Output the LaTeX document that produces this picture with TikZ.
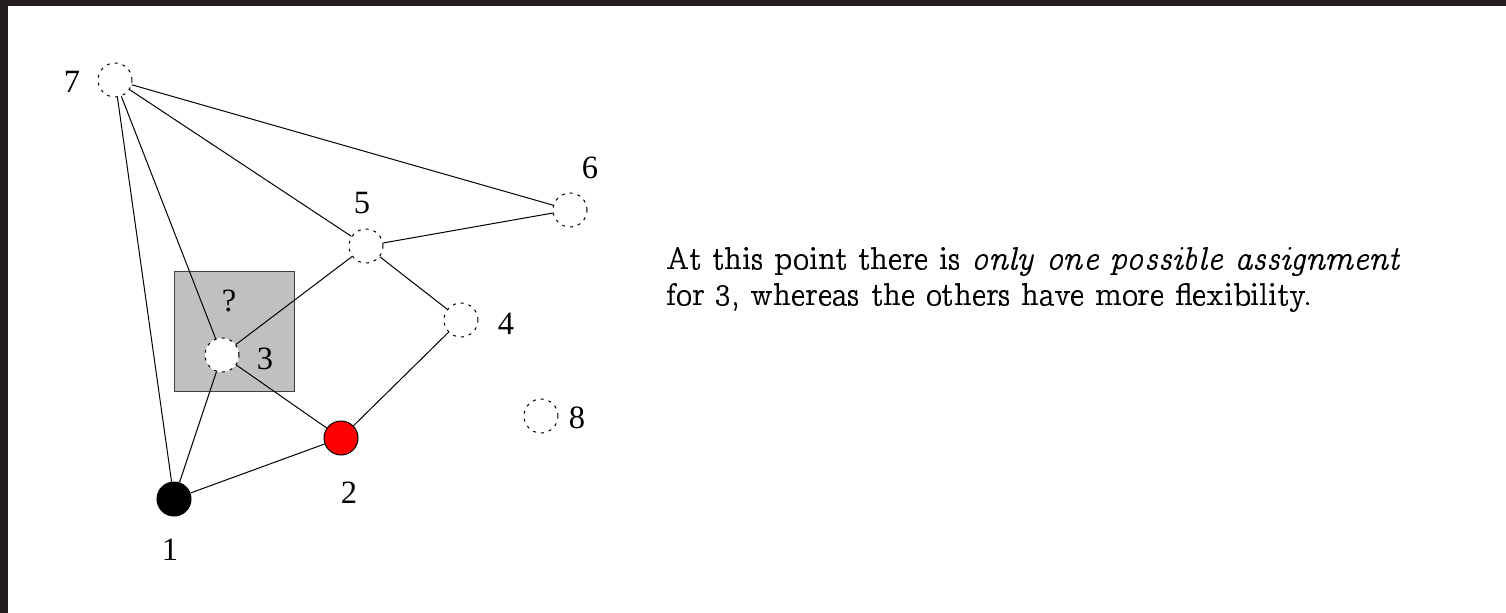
\documentclass[tikz,border=0pt]{standalone}
\usepackage[OT1]{fontenc}
\usepackage{fontspec}
\setmainfont{Liberation Serif}
\definecolor{frame}{HTML}{231F20}
\definecolor{boxgray}{HTML}{C0C0C0}
\definecolor{boxedge}{HTML}{404040}
\tikzset{
  vtx/.style={circle, minimum size=13.6pt, inner sep=0pt, line width=0.4pt},
  open/.style={vtx, draw, dash pattern=on 1.2pt off 2pt, fill=white},
  lbl/.style={anchor=base, inner sep=0pt, font=\fontsize{13}{15}\selectfont},
  edge/.style={line width=0.4pt},
}
\begin{document}
\begin{tikzpicture}[x=0.4pt,y=-0.4pt]
\useasboundingbox (0,0) rectangle (1506,613);
\fill[white] (0,0) rectangle (1506,613);
\fill[frame] (0,0) rectangle (1506,6);
\fill[frame] (0,0) rectangle (8,613);
% gray box
\node[draw=boxedge, fill=boxgray, line width=0.4pt, minimum size=48pt, inner sep=0pt] (box) at (234,331) {};
% vertices
\node[open] (v7) at (115,80) {};
\node[open] (v6) at (570,210) {};
\node[open] (v5) at (366,246) {};
\node[open] (v4) at (461,320) {};
\node[open] (v8) at (541,416) {};
\node[open] (v3) at (222,355) {};
\node[vtx, draw=black, fill=red] (v2) at (341,438) {};
\node[vtx, draw=black, fill=black] (v1) at (174,499) {};
% edges
\draw[edge] (v7) -- (v6);
\draw[edge] (v7) -- (v5);
\draw[edge] (v7) -- (v3);
\draw[edge] (v7) -- (v1);
\draw[edge] (v5) -- (v6);
\draw[edge] (v5) -- (v3);
\draw[edge] (v5) -- (v4);
\draw[edge] (v4) -- (v2);
\draw[edge] (v3) -- (v2);
\draw[edge] (v3) -- (v1);
\draw[edge] (v1) -- (v2);
% labels
\node[lbl] (l7) at (72,92) {7};
\node[lbl] (l6) at (590,178) {6};
\node[lbl] (l5) at (362,213) {5};
\node[lbl] (l4) at (506,334) {4};
\node[lbl] (l8) at (577,428) {8};
\node[lbl] (l3) at (265,369) {3};
\node[lbl] (lq) at (229,311) {?};
\node[lbl] (l2) at (349,503) {2};
\node[lbl] (l1) at (170,560) {1};
% text
\node[anchor=base west, inner sep=0pt] (txt) at (666,305)
  {\scalebox{1.061}{\fontencoding{OT1}\fontfamily{ccr}\fontsize{12}{13.2}\selectfont
   \begin{tabular}[b]{@{}l@{}}
   At this point there is \textit{only one possible assignment}\\
   for 3, whereas the others have more flexibility.
   \end{tabular}}};
\end{tikzpicture}
\end{document}
